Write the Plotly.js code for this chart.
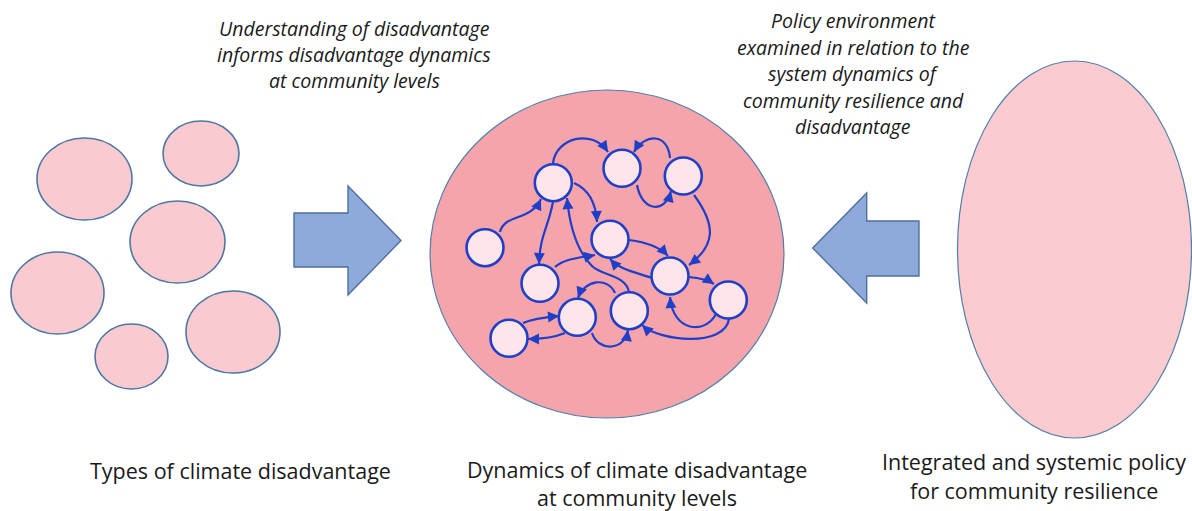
<!DOCTYPE html>
<html><head><meta charset="utf-8">
<script src="https://cdn.plot.ly/plotly-3.0.1.min.js"></script>
<style>html,body{margin:0;padding:0;background:#fff}</style>
</head><body>
<div id="chart" style="width:1192px;height:511px"></div>
<script>
// Left cluster: types of climate disadvantage (ellipses)
const blobX  = [84.5, 201, 177.5, 57.5, 131.5, 233];
const blobY  = [179, 153.5, 242, 293, 356.5, 332];
const blobRx = [47.5, 38, 47.5, 46.5, 36.5, 47];
const blobRy = [41, 32.5, 41, 41, 32.5, 41];

// Central network nodes
const nodeX = [553.3, 622, 683.3, 485, 610, 540, 670, 728.3, 577.3, 629.3, 509];
const nodeY = [182.7, 168.3, 176, 247.7, 239.3, 283.3, 276, 300, 317.3, 310.7, 338.3];
const nodeR = 18.5;

// Edges: list of cubic segments [x0,y0,c1x,c1y,c2x,c2y,x1,y1] (arrow at end)
const edges = [
  [[553,163, 556,138, 592,128, 608,152]],
  [[637,185, 642,212, 665,214, 671,191]],
  [[670,158, 668,133, 645,133, 634,152]],
  [[694,195, 716,225, 716,245, 689,265]],
  [[500,232, 505,213, 530,222, 541,199]],
  [[553,202, 548,228, 540,235, 539,264]],
  [[574,183, 590,190, 596,205, 597,222]],
  [[555,267, 565,258, 580,258, 595,255]],
  [[629,240, 645,242, 660,247, 668,256]],
  [[652,278, 635,272, 620,270, 610,259]],
  [[689,277, 700,278, 708,280, 714,284]],
  [[716,314, 705,335, 673,332, 670,297]],
  [[729,319, 725,347, 660,342, 642,325]],
  [[629,292, 626,275, 602,276, 592,266], [592,266, 578,252, 570,230, 567,198]],
  [[615,293, 608,277, 585,279, 578,298]],
  [[592,333, 598,352, 625,351, 628,330]],
  [[523,323, 535,318, 548,317, 559,316]],
  [[565,333, 553,338, 540,339, 528,339]]
];

// Block arrows (polygon outlines)
const arrowRight = [[294,213],[348,213],[348,186],[401,240.5],[348,295],[348,267],[294,267]];
const arrowLeft  = [[919,221],[866.7,221],[866.7,193],[812.7,248],[866.7,303],[866.7,276],[919,276]];

// Texts (one entry per line)
const topLeftText  = ["Understanding of disadvantage","informs disadvantage dynamics","at community levels"];
const topLeftY     = [28, 54, 80];
const topRightText = ["Policy environment","examined in relation to the","system dynamics of","community resilience and","disadvantage"];
const topRightY    = [20.5, 47, 73.5, 100, 126.5];
const bottomLabels = [
  {x:240, lines:["Types of climate disadvantage"], ys:[470]},
  {x:637, lines:["Dynamics of climate disadvantage","at community levels"], ys:[469, 497]},
  {x:1034, lines:["Integrated and systemic policy","for community resilience"], ys:[461.5, 490]}
];

const BLUE = '#1f3fc9';
const shapes = [];
const annotations = [];

for (let i=0;i<blobX.length;i++){
  shapes.push({type:'circle', xref:'x', yref:'y',
    x0:blobX[i]-blobRx[i], x1:blobX[i]+blobRx[i], y0:blobY[i]-blobRy[i], y1:blobY[i]+blobRy[i],
    fillcolor:'#f9cbd0', line:{color:'#4d76a3', width:1.6}});
}
function poly(pts){ return 'M ' + pts.map(p=>p[0]+','+p[1]).join(' L ') + ' Z'; }
shapes.push({type:'path', xref:'x', yref:'y', path:poly(arrowRight), fillcolor:'#8eaadb', line:{color:'#4f6f9e', width:1.4}});
shapes.push({type:'path', xref:'x', yref:'y', path:poly(arrowLeft), fillcolor:'#8eaadb', line:{color:'#4f6f9e', width:1.4}});

// Big circle and right ellipse
shapes.push({type:'circle', xref:'x', yref:'y', x0:430, x1:784, y0:90, y1:418,
  fillcolor:'#f6a4ab', line:{color:'#4f7faa', width:1.2}});
shapes.push({type:'circle', xref:'x', yref:'y', x0:957.5, x1:1191.5, y0:61, y1:438,
  fillcolor:'#fbcbd0', line:{color:'#4f7faa', width:1.2}});

// Edges
edges.forEach(segs=>{
  let p = 'M '+segs[0][0]+','+segs[0][1];
  segs.forEach(s=>{ p += ' C '+s[2]+','+s[3]+' '+s[4]+','+s[5]+' '+s[6]+','+s[7]; });
  shapes.push({type:'path', xref:'x', yref:'y', path:p, line:{color:BLUE, width:2.2}});
  const s = segs[segs.length-1];
  const dx = s[6]-s[4], dy = s[7]-s[5], L = Math.hypot(dx,dy)||1;
  annotations.push({x:s[6], y:s[7], ax:s[6]-dx/L*6, ay:s[7]-dy/L*6, xref:'x', yref:'y', axref:'x', ayref:'y',
    text:'', showarrow:true, arrowhead:2, arrowsize:1.1, arrowwidth:2, arrowcolor:BLUE, standoff:0, startstandoff:0});
});

// Nodes
for (let i=0;i<nodeX.length;i++){
  shapes.push({type:'circle', xref:'x', yref:'y',
    x0:nodeX[i]-nodeR, x1:nodeX[i]+nodeR, y0:nodeY[i]-nodeR, y1:nodeY[i]+nodeR,
    fillcolor:'#fde5e9', line:{color:BLUE, width:2.6}});
}

// Text
const FONT = '"Open Sans", Lato, sans-serif';
function addLine(x, y, txt, size, italic){
  annotations.push({x:x, y:y, xref:'x', yref:'y', text: italic ? '<i>'+txt+'</i>' : txt, showarrow:false,
    xanchor:'center', yanchor:'middle', font:{family:FONT, size:size, color:'#1a1a1a'}});
}
topLeftText.forEach((t,i)=>addLine(354, topLeftY[i], t, 19.5, true));
topRightText.forEach((t,i)=>addLine(853, topRightY[i], t, 19.5, true));
bottomLabels.forEach(b=>b.lines.forEach((t,i)=>addLine(b.x, b.ys[i], t, 21.5, false)));

const layout = {
  width:1192, height:511, margin:{l:0,r:0,t:0,b:0},
  paper_bgcolor:'#ffffff', plot_bgcolor:'#ffffff', showlegend:false,
  xaxis:{range:[0,1192], visible:false, fixedrange:true},
  yaxis:{range:[511,0], visible:false, fixedrange:true},
  shapes:shapes, annotations:annotations
};
Plotly.newPlot('chart', [{x:[0],y:[0],mode:'markers',marker:{opacity:0},hoverinfo:'skip'}], layout, {staticPlot:true, displayModeBar:false});
</script>
</body></html>
